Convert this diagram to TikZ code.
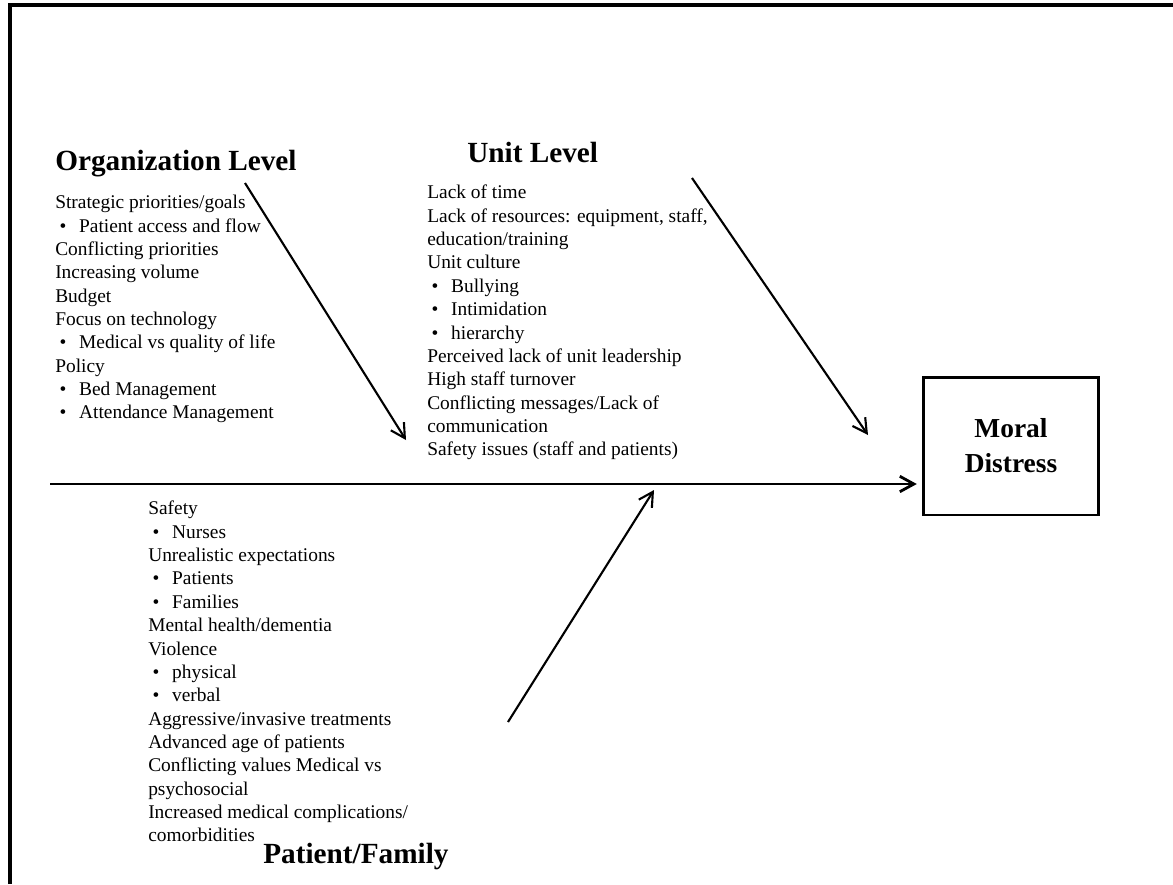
\documentclass[tikz,border=0pt]{standalone}
\usepackage{fontspec}
\setmainfont{Liberation Serif}
\usetikzlibrary{arrows.meta}
\newcommand{\itm}{\makebox[17pt][l]{\hspace{3pt}\textbullet}}

\begin{document}
\begin{tikzpicture}[x=0.025cm,y=-0.025cm,
  every node/.style={inner sep=0pt},
  head/.style={anchor=base west,font=\fontsize{20.8}{24}\selectfont\bfseries},
  items/.style={anchor=north west,align=left,font=\fontsize{13.8}{16.6}\selectfont},
  feeder/.style={-{Straight Barb[length=10pt,width=11pt]},line width=1.5pt}]
  \useasboundingbox (0,0) rectangle (1173,884);
  \draw[line width=2.8pt] (10,884) -- (10,5) -- (1173,5);

  % effect box
  \node[draw,line width=2pt,minimum width=124pt,minimum height=98pt,align=center,
        font=\fontsize{19.5}{24.8}\selectfont\bfseries] (md) at (1011,446) {Moral\\Distress};

  % headings
  \node[head] (orgT) at (55,170) {Organization Level};
  \node[head] (unitT) at (467,162) {Unit Level};
  \node[head] (patT) at (263,863) {Patient/Family};

  % cause lists
  \node[items] (orgL) at (55,195) {Strategic priorities/goals\\
    \itm Patient access and flow\\
    Conflicting priorities\\
    Increasing volume\\
    Budget\\
    Focus on technology\\
    \itm Medical vs quality of life\\
    Policy\\
    \itm Bed Management\\
    \itm Attendance Management};
  \node[items] (unitL) at (427,185) {Lack of time\\
    Lack of resources: equipment, staff,\\
    education/training\\
    Unit culture\\
    \itm Bullying\\
    \itm Intimidation\\
    \itm hierarchy\\
    Perceived lack of unit leadership\\
    High staff turnover\\
    Conflicting messages/Lack of\\
    communication\\
    Safety issues (staff and patients)};
  \node[items] (patL) at (148,501) {Safety\\
    \itm Nurses\\
    Unrealistic expectations\\
    \itm Patients\\
    \itm Families\\
    Mental health/dementia\\
    Violence\\
    \itm physical\\
    \itm verbal\\
    Aggressive/invasive treatments\\
    Advanced age of patients\\
    Conflicting values Medical vs\\
    psychosocial\\
    Increased medical complications/\\
    comorbidities};

  % bones
  \coordinate (spine0) at (50,484);
  \coordinate (org0) at (245,183);
  \coordinate (org1) at (406,440);
  \coordinate (unit0) at (692,178);
  \coordinate (unit1) at (868,435);
  \coordinate (pat0) at (508,722);
  \coordinate (pat1) at (654,490);
  \draw[feeder,line width=2pt] (spine0) -- (spine0 -| md.west) [shorten >=4pt];
  \draw[feeder] (org0) -- (org1);
  \draw[feeder] (unit0) -- (unit1);
  \draw[feeder] (pat0) -- (pat1);
\end{tikzpicture}
\end{document}
